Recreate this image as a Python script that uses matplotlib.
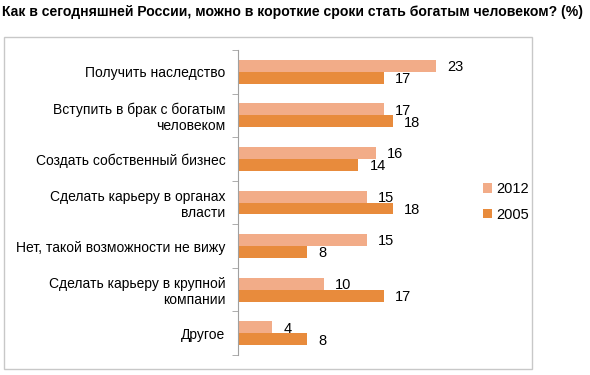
import numpy as np
import matplotlib.pyplot as plt
from matplotlib.patches import Rectangle

plt.rcParams['font.family'] = ['Liberation Sans', 'DejaVu Sans']

categories = ['Получить наследство', 'Вступить в брак с богатым\nчеловеком',
              'Создать собственный бизнес', 'Сделать карьеру в органах\nвласти',
              'Нет, такой возможности не вижу', 'Сделать карьеру в крупной\nкомпании',
              'Другое']
vals2012 = [23, 17, 16, 15, 15, 10, 4]
vals2005 = [17, 18, 14, 18, 8, 17, 8]
series = ['2012', '2005']
colors = ['#F2AC88', '#E88B3C']

fig = plt.figure(figsize=(5.9, 3.75), dpi=100)
fig.text(0.003, 0.968, 'Как в сегодняшней России, можно в короткие сроки стать богатым человеком? (%)',
         fontsize=10.1, fontweight='bold', va='center', ha='left')
# outer frame
fig.patches.append(Rectangle((4/590, 1-369/375), 528/590, (369-37)/375, transform=fig.transFigure,
                             fill=False, edgecolor='#C8C8C8', lw=1))

ax = fig.add_axes([238/590, 1-355/375, 212/590, 305/375])
y = np.arange(len(categories))
h = 0.275
b1 = ax.barh(y - h/2, vals2012, height=h, color=colors[0], label=series[0])
b2 = ax.barh(y + h/2, vals2005, height=h, color=colors[1], label=series[1])
for bars, vals in [(b1, vals2012), (b2, vals2005)]:
    for bar, v in zip(bars, vals):
        ax.annotate(str(v), (bar.get_width(), bar.get_y() + bar.get_height()/2),
                    xytext=(8, -1), textcoords='offset points', va='center', ha='left', fontsize=10.5)

ax.set_xlim(0, 24.65)
ax.set_ylim(len(categories) - 0.5, -0.5)
ax.set_yticks(y)
ax.set_yticklabels(categories, fontsize=10, ha='right')
ax.set_yticks(np.arange(len(categories) + 1) - 0.5, minor=True)
ax.tick_params(axis='y', which='major', length=0, pad=9)
ax.tick_params(axis='y', which='minor', length=4, color='#A0A0A0')
ax.set_xticks([])
for s in ['top', 'right', 'bottom']:
    ax.spines[s].set_visible(False)
ax.spines['left'].set_color('#A0A0A0')

leg = fig.legend(handles=[b1, b2], labels=series, loc='center left',
                 bbox_to_anchor=(470/590, 1-202/375), frameon=False, fontsize=10.5,
                 handlelength=0.6, handleheight=0.6, handletextpad=0.3, labelspacing=0.8)

fig.savefig('out.png', dpi=100)
